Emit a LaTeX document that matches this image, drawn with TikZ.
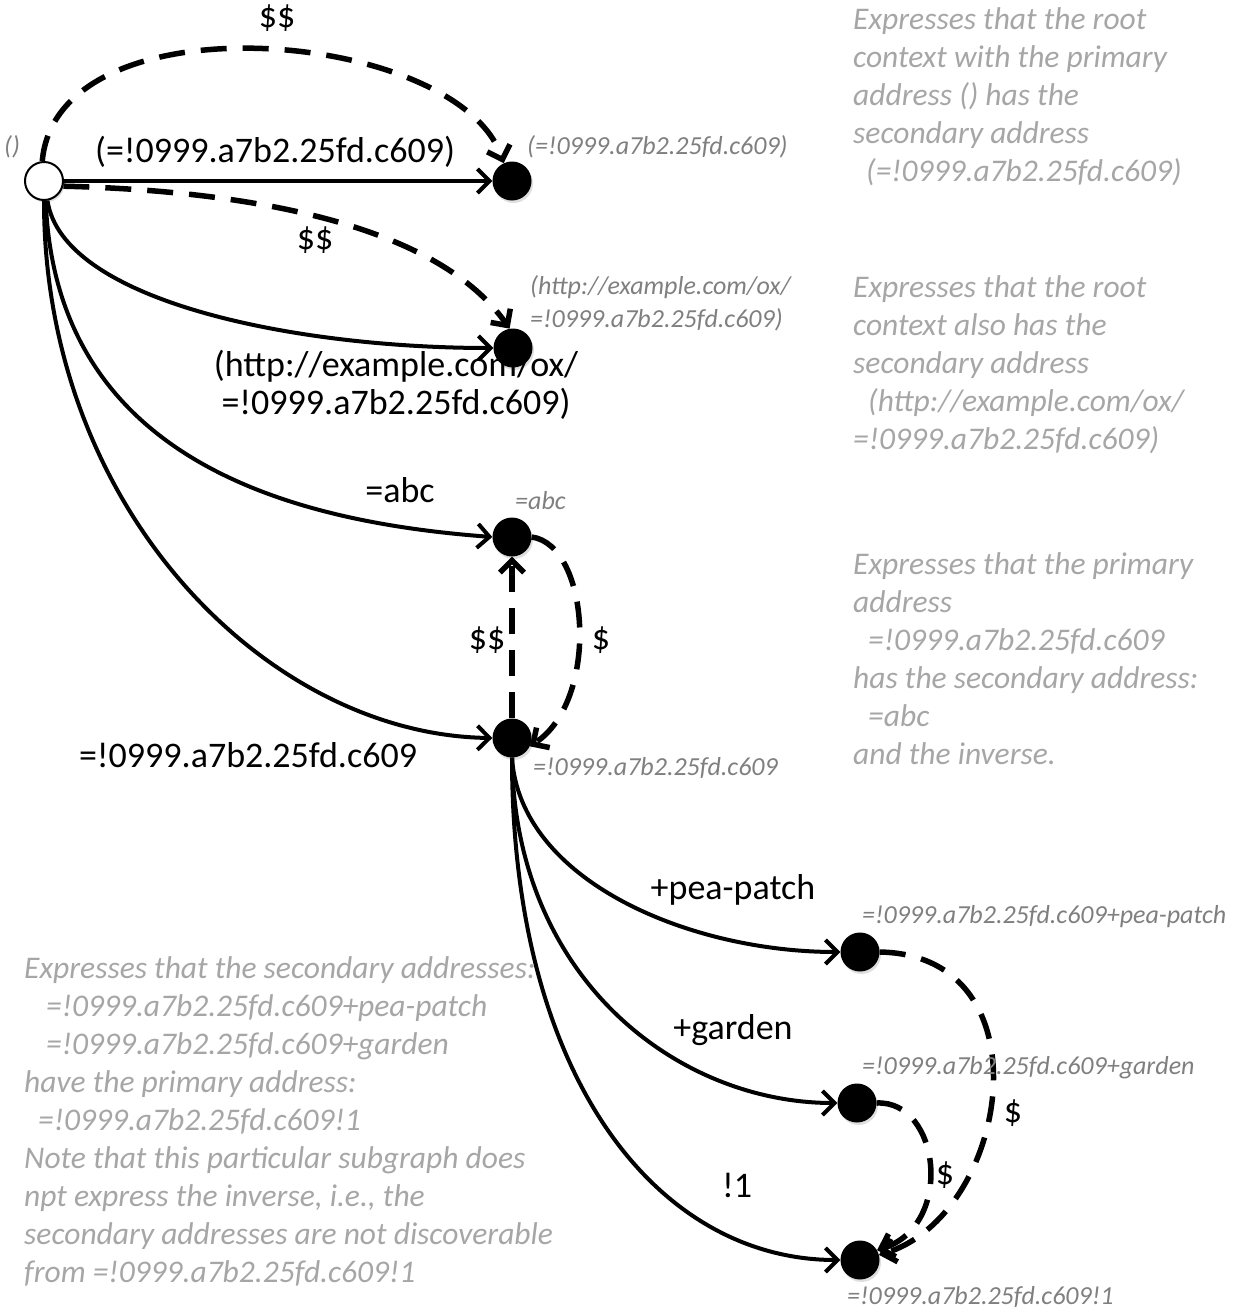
\documentclass[tikz,border=0pt]{standalone}
\usepackage{fontspec}
\setmainfont{Carlito}
\usetikzlibrary{arrows.meta,shadows}
\definecolor{notegray}{HTML}{A6A6A6}
\definecolor{taggray}{HTML}{7F7F7F}

\begin{document}
\begin{tikzpicture}[x=1pt,y=-1pt,
  dot/.style={circle,fill=black,minimum size=39pt,inner sep=0pt,
    drop shadow={shadow xshift=1.5pt,shadow yshift=-2.5pt,opacity=0.25}},
  opendot/.style={circle,draw=black,line width=2pt,fill=white,minimum size=38pt,inner sep=0pt,
    drop shadow={shadow xshift=1.5pt,shadow yshift=-2.5pt,opacity=0.25}},
  link/.style={line width=4pt,-{Straight Barb[length=12pt,width=24pt]}},
  dlink/.style={link,line width=5.5pt,dash pattern=on 26pt off 16pt},
  edgelabel/.style={font=\fontsize{36}{38}\selectfont,inner sep=0pt},
  tag/.style={font=\fontsize{26}{33}\selectfont\itshape,text=taggray,inner sep=0pt,anchor=west,align=left},
  note/.style={font=\fontsize{31.5}{38}\selectfont\itshape,text=notegray,inner sep=0pt,anchor=base west,align=left}
]
\path[use as bounding box] (0,0) rectangle (1242,1310);

% contexts
\node[opendot] (root) at (44,181) {};
\node[dot] (n1) at (512,181) {};
\node[dot] (n2) at (513,348) {};
\node[dot] (n3) at (512,537) {};
\node[dot] (n4) at (512,738) {};
\node[dot] (n5) at (860,952) {};
\node[dot] (n6) at (857,1103) {};
\node[dot] (n7) at (860,1260) {};

% solid arcs from the root
\draw[link] (root) -- (n1);
\draw[link] (root.-80) .. controls +(15,100) and +(-200,0) .. (n2.west);
\draw[link] (root.-85) .. controls +(10,260) and +(-200,-15) .. (n3.west);
\draw[link] (root.-90) .. controls +(0,310) and +(-223,-3) .. (n4.west);

% dashed $$ arcs from the root
\draw[dlink] (root.95) .. controls +(15,-167) and +(-45,-134) .. (n1.115);
\draw[dlink] (root.-15) .. controls +(200,5) and +(-70,-100) .. (n2.100);

% =abc <-> =!0999.a7b2.25fd.c609
\draw[dlink] (n4) -- (n3);
\draw[dlink] (n3.east) .. controls (590,545) and (600,700) .. (n4.-25);

% subcontexts
\draw[link] (n4.south) .. controls +(8,123) and +(-151,0) .. (n5.west);
\draw[link] (n4.south) .. controls +(3,223) and +(-158,0) .. (n6.west);
\draw[link] (n4.south) .. controls +(0,323) and +(-181,0) .. (n7.west);
\draw[dlink] (n5.east) .. controls (1050,955) and (1010,1215) .. (n7.15);
\draw[dlink] (n6.east) .. controls (940,1100) and (955,1225) .. (n7.30);

% arc labels
\node[edgelabel] (l1) at (277,18) {\$\$};
\node[edgelabel] (l2) at (275,152) {(=!0999.a7b2.25fd.c609)};
\node[edgelabel] (l3) at (315,240) {\$\$};
\node[edgelabel,align=center] (l4) at (396,385) {(http://example.com/ox/\\=!0999.a7b2.25fd.c609)};
\node[edgelabel] (l5) at (400,490) {=abc};
\node[edgelabel] (l6) at (487,640) {\$\$};
\node[edgelabel] (l7) at (601,640) {\$};
\node[edgelabel] (l8) at (248,755) {=!0999.a7b2.25fd.c609};
\node[edgelabel] (l9) at (733,890) {+pea-patch};
\node[edgelabel] (l10) at (733,1030) {+garden};
\node[edgelabel] (l11) at (737,1185) {!1};
\node[edgelabel] (l12) at (1013,1113) {\$};
\node[edgelabel] (l13) at (945,1175) {\$};

% context tags
\node[tag] (t0) at (4,147) {()};
\node[tag] (t1) at (527,147) {(=!0999.a7b2.25fd.c609)};
\node[tag] (t2) at (530,303) {(http://example.com/ox/\\=!0999.a7b2.25fd.c609)};
\node[tag] (t3) at (515,501) {=abc};
\node[tag] (t4) at (533,768) {=!0999.a7b2.25fd.c609};
\node[tag] (t5) at (862,917) {=!0999.a7b2.25fd.c609+pea-patch};
\node[tag] (t6) at (862,1068) {=!0999.a7b2.25fd.c609+garden};
\node[tag] (t7) at (847,1297) {=!0999.a7b2.25fd.c609!1};

% explanations (placed by the baseline of their last line)
\node[note] (e1) at (853,181) {Expresses that the root\\context with the primary\\address () has the\\secondary address\\\hspace*{13pt}(=!0999.a7b2.25fd.c609)};
\node[note] (e2) at (853,449) {Expresses that the root\\context also has the\\secondary address\\\hspace*{15pt}(http://example.com/ox/\\=!0999.a7b2.25fd.c609)};
\node[note] (e3) at (853,764) {Expresses that the primary\\address\\\hspace*{15pt}=!0999.a7b2.25fd.c609\\has the secondary address:\\\hspace*{15pt}=abc\\and the inverse.};
\node[note] (e4) at (24,1282) {Expresses that the secondary addresses:\\\hspace*{22pt}=!0999.a7b2.25fd.c609+pea-patch\\\hspace*{22pt}=!0999.a7b2.25fd.c609+garden\\have the primary address:\\\hspace*{14pt}=!0999.a7b2.25fd.c609!1\\Note that this particular subgraph does\\npt express the inverse, i.e., the\\secondary addresses are not discoverable\\from =!0999.a7b2.25fd.c609!1};
\end{tikzpicture}
\end{document}
